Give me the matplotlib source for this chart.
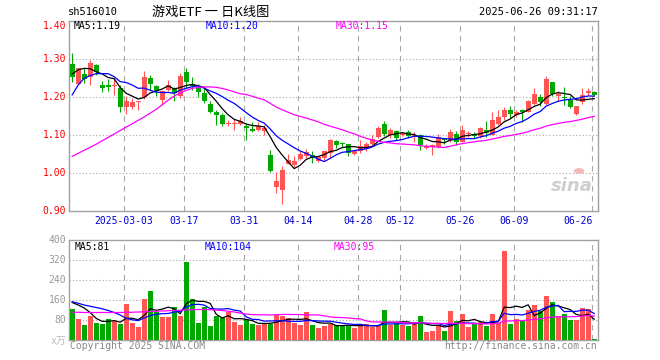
import numpy as np
import pandas as pd
import matplotlib
matplotlib.use("Agg")
import matplotlib.pyplot as plt

# ---------------- data ----------------
opens = [1.288,1.235,1.261,1.254,1.285,1.233,1.233,1.229,1.224,1.175,
         1.173,1.188,1.200,1.250,1.229,1.193,1.219,1.222,1.204,1.266,
         1.236,1.228,1.212,1.182,1.162,1.152,1.129,1.130,1.130,1.125,
         1.116,1.114,1.110,1.048,0.962,0.956,1.025,1.022,1.038,1.044,
         1.048,1.032,1.041,1.053,1.085,1.078,1.077,1.050,1.057,1.064,
         1.077,1.094,1.130,1.099,1.111,1.099,1.108,1.097,1.101,1.066,
         1.070,1.070,1.090,1.088,1.104,1.083,1.103,1.103,1.097,1.114,
         1.101,1.130,1.147,1.165,1.154,1.165,1.162,1.182,1.200,1.181,
         1.239,1.202,1.200,1.193,1.156,1.187,1.2105,1.213]
highs = [1.316,1.278,1.278,1.297,1.287,1.243,1.247,1.250,1.231,1.204,
         1.197,1.191,1.269,1.259,1.233,1.220,1.246,1.228,1.263,1.278,
         1.254,1.235,1.225,1.190,1.167,1.158,1.140,1.143,1.149,1.132,
         1.134,1.134,1.127,1.061,1.002,1.018,1.051,1.044,1.057,1.064,
         1.059,1.046,1.059,1.090,1.088,1.083,1.077,1.062,1.087,1.083,
         1.101,1.123,1.136,1.118,1.114,1.108,1.114,1.108,1.103,1.077,
         1.076,1.103,1.092,1.116,1.112,1.127,1.111,1.107,1.122,1.136,
         1.162,1.165,1.175,1.178,1.167,1.169,1.193,1.224,1.209,1.257,
         1.241,1.215,1.226,1.202,1.178,1.224,1.224,1.215]
lows = [1.240,1.231,1.237,1.232,1.259,1.213,1.215,1.206,1.160,1.156,
        1.169,1.167,1.196,1.219,1.202,1.180,1.215,1.190,1.197,1.224,
        1.219,1.200,1.184,1.158,1.127,1.123,1.125,1.114,1.127,1.088,
        1.108,1.112,1.099,1.004,0.947,0.918,1.024,1.015,1.035,1.039,
        1.026,1.029,1.035,1.041,1.066,1.066,1.045,1.048,1.053,1.059,
        1.074,1.092,1.097,1.093,1.088,1.097,1.092,1.083,1.062,1.064,
        1.048,1.067,1.077,1.081,1.074,1.081,1.096,1.092,1.092,1.096,
        1.099,1.127,1.140,1.144,1.149,1.134,1.162,1.180,1.178,1.180,
        1.202,1.190,1.180,1.171,1.152,1.182,1.206,1.202]
closes = [1.253,1.276,1.249,1.291,1.266,1.225,1.228,1.233,1.175,1.190,
          1.188,1.190,1.253,1.235,1.215,1.215,1.231,1.211,1.256,1.241,
          1.229,1.213,1.190,1.162,1.154,1.130,1.131,1.131,1.136,1.118,
          1.111,1.124,1.120,1.006,0.978,1.009,1.035,1.031,1.050,1.055,
          1.040,1.042,1.057,1.088,1.073,1.076,1.053,1.059,1.072,1.077,
          1.090,1.118,1.104,1.114,1.092,1.105,1.098,1.099,1.073,1.072,
          1.074,1.094,1.086,1.108,1.083,1.114,1.105,1.098,1.118,1.105,
          1.140,1.147,1.165,1.156,1.162,1.162,1.189,1.209,1.186,1.248,
          1.209,1.208,1.197,1.173,1.178,1.206,1.2175,1.206]
volumes = [124,84,60,96,68,65,84,75,64,145,
           68,52,164,196,113,92,92,132,96,312,
           164,68,132,56,96,88,112,72,60,80,
           64,60,66,64,100,96,88,68,60,112,
           60,48,56,64,60,60,56,48,64,64,
           52,55,120,60,68,60,56,72,96,32,
           36,60,36,116,76,104,52,64,72,56,
           104,68,356,64,84,80,120,140,116,176,
           152,96,104,80,80,128,124,4]
# moving-average values at the start of the window
ma5_head = [1.261,1.272,1.276,1.275]
ma10_head = [1.206,1.232,1.250,1.257,1.262,1.262,1.262,1.254,1.241]
ma30_head = [1.044,1.052,1.060,1.068,1.076,1.085,1.094,1.103,1.112,1.121,
             1.130,1.139,1.148,1.158,1.168,1.180,1.192,1.203,1.211,1.218,
             1.223,1.226,1.227,1.227,1.226,1.223,1.219,1.214,1.209]
vma5_head = [150,140,128,110]
vma10_head = [153,147,140,135,130,125,118,110,100]
vma30_head = [111,111,110,110,110,110,110,110,110,111,111,112,113,114,115,
              116,117,118,119,120,121,122,122,121,120,118,115,112,108]
tick_idx = [9,19,29,38,48,55,65,74,87]
tick_labels = ['2025-03-03','03-17','03-31','04-14','04-28','05-12','05-26','06-09','06-26']
price_ticks = [1.40,1.30,1.20,1.10,1.00,0.90]
vol_ticks = [400,320,240,160,80]

# ---------------- helpers ----------------
def ma(vals, n, head):
    out = pd.Series(vals, dtype=float).rolling(n).mean().to_numpy()
    out[:n-1] = head
    return out

W, H = 660, 360
RED = '#ff5555'
GREEN = '#00a800'
GRID = '#a8a8a8'
FRAME = '#a0a0a0'
MONO = 'DejaVu Sans Mono'
FS = 7.0

fig = plt.figure(figsize=(W/100, H/100), dpi=100)
fig.patch.set_facecolor('white')

def ftext(x, y, s, **kw):
    kw.setdefault('family', MONO)
    kw.setdefault('fontsize', FS)
    fig.text(x/W, 1-y/H, s, **kw)

L, R = 69.0, 597.5
ax1 = fig.add_axes([L/W, 1-211/H, (R-L)/W, (211-21.3)/H])
ax2 = fig.add_axes([L/W, 1-340/H, (R-L)/W, (340-240)/H])

n = len(closes)
x = np.arange(n)
o = np.array(opens); c = np.array(closes); hi = np.array(highs); lo = np.array(lows)
v = np.array(volumes)
up = c >= o
cols = np.where(up, RED, GREEN)
xl = (-0.53, 87.55)
bw = 0.83

for ax in (ax1, ax2):
    ax.set_xlim(*xl)
    ax.set_xticks([])
    ax.set_yticks([])
    for s in ax.spines.values():
        s.set_color(FRAME)
        s.set_linewidth(1.0)
    for t in tick_idx:
        ax.axvline(t - 0.35, color=GRID, lw=0.8, ls=(0, (5, 4)), zorder=0)

# ---- price panel ----
ax1.set_ylim(0.90, 1.40)
for p in [1.30, 1.20, 1.10, 1.00]:
    ax1.axhline(p, color=GRID, lw=0.8, ls=(0, (1, 2)), zorder=0)
ax1.vlines(x, lo, hi, colors=cols, lw=0.8, zorder=2)
body_h = np.maximum(np.abs(c - o), 0.0015)
ax1.bar(x, body_h, bottom=np.minimum(o, c), width=bw, color=cols, lw=0, zorder=3)
ax1.plot(x, ma(c, 5, ma5_head), color='black', lw=0.9, zorder=4)
ax1.plot(x, ma(c, 10, ma10_head), color='#0000ff', lw=0.9, zorder=4)
ax1.plot(x, ma(c, 30, ma30_head), color='#ff00ff', lw=0.9, zorder=4)

# ---- volume panel ----
ax2.set_ylim(0, 400)
for q in [320, 240, 160, 80]:
    ax2.axhline(q, color=GRID, lw=0.8, ls=(0, (1, 2)), zorder=0)
ax2.bar(x, v, width=bw, color=cols, lw=0, zorder=3)
ax2.plot(x, ma(v, 5, vma5_head), color='black', lw=0.9, zorder=4)
ax2.plot(x, ma(v, 10, vma10_head), color='#0000ff', lw=0.9, zorder=4)
ax2.plot(x, ma(v, 30, vma30_head), color='#ff00ff', lw=0.9, zorder=4)

# ---- texts ----
ftext(68, 12, 'sh516010', va='center', ha='left', fontsize=7.5)
ftext(211, 12, '游戏ETF 一 日K线图', va='center', ha='center', fontsize=9.5,
      family=['Noto Sans CJK SC', 'DejaVu Sans'])
ftext(598, 12, '2025-06-26 09:31:17', va='center', ha='right', fontsize=7.5)

ftext(74, 26, 'MA5:1.19', va='center', color='black')
ftext(206, 26, 'MA10:1.20', va='center', color='#0000ff')
ftext(336, 26, 'MA30:1.15', va='center', color='#ff00ff')

for p in price_ticks:
    yy = 21.3 + (1.40 - p) / 0.1 * 37.94
    if p == 1.40:
        yy += 5
    ftext(66, yy, f'{p:.2f}', va='center', ha='right', color='#ff0000')

for t, lab in zip(tick_idx, tick_labels):
    xp = L + (t - 0.35 - xl[0]) / (xl[1] - xl[0]) * (R - L)
    if lab == '06-26':
        ftext(xp + 1, 221, lab, va='center', ha='right', color='#0000cc')
    else:
        ftext(xp, 221, lab, va='center', ha='center', color='#0000cc')

for q in vol_ticks:
    yy = 340 - q * 0.25
    ftext(66, yy, str(q), va='center', ha='right', color='#999999')
ftext(66, 341, 'x万', va='center', ha='right', color='#bbbbbb',
      family=['DejaVu Sans Mono', 'Noto Sans CJK SC'])

ftext(75, 247, 'MA5:81', va='center', color='black')
ftext(205, 247, 'MA10:104', va='center', color='#0000ff')
ftext(334, 247, 'MA30:95', va='center', color='#ff00ff')

ftext(70, 346, 'Copyright 2025 SINA.COM', va='center', ha='left', color='#888888')
ftext(597, 346, 'http://finance.sina.com.cn', va='center', ha='right', color='#888888')

# sina watermark
ftext(572, 186, 'sina', va='center', ha='center', family='DejaVu Sans',
      fontsize=13, fontweight='bold', style='italic', color='#cfcfcf')
fig.patches.append(matplotlib.patches.Circle((579/W, 1-171/H), 0.008, transform=fig.transFigure,
                                             facecolor='#f4b8b8', edgecolor='none'))

fig.savefig('out.png', dpi=100, facecolor='white')
